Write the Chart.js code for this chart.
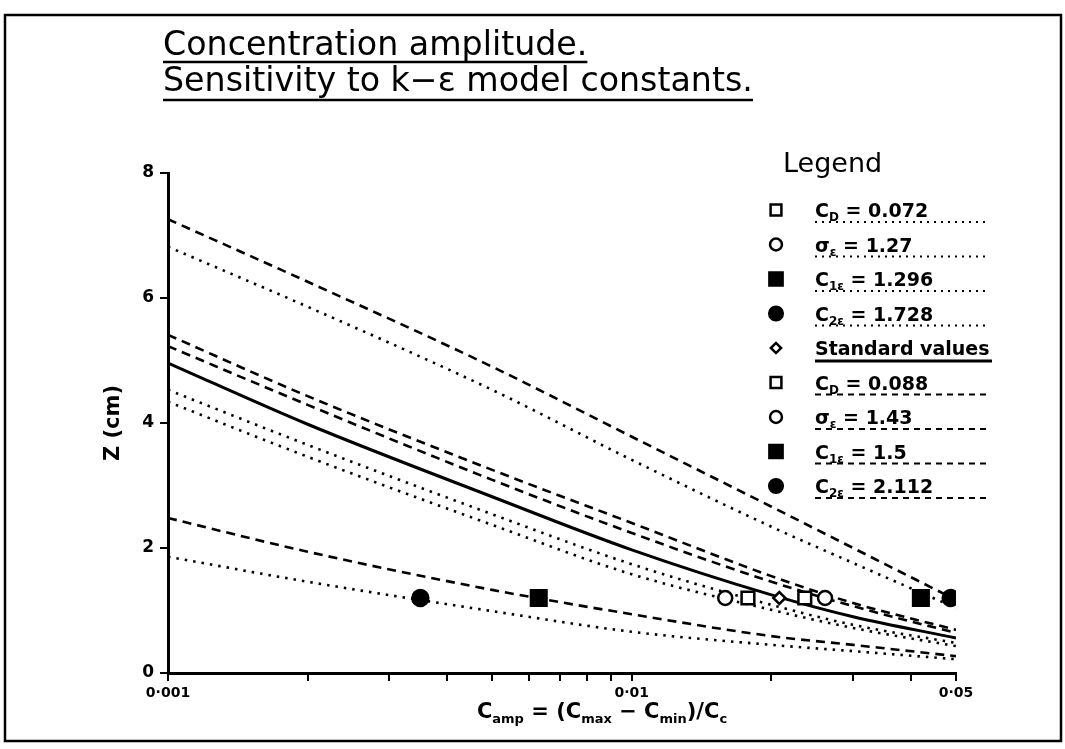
<!DOCTYPE html>
<html>
<head>
<meta charset="utf-8">
<title>Concentration amplitude</title>
<script src="https://cdn.jsdelivr.net/npm/chart.js@4.4.1/dist/chart.umd.min.js"></script>
<style>
  html, body { margin: 0; padding: 0; background: #fff; }
  #wrap { width: 1065px; height: 749px; }
</style>
</head>
<body>
<div id="wrap"><canvas id="ampChart" width="1065" height="749"></canvas></div>
<script>
/* Amplitud de concentración: sensibilidad a las constantes del modelo k-ε */

// Eje X (logarítmico): C_amp
const xValues = [0.001, 0.002, 0.005, 0.01, 0.02, 0.03, 0.05];

// Z (cm) de cada curva en los puntos de xValues
const zStandard = [4.96, 3.98, 2.82, 1.97, 1.25, 0.90, 0.56];
const zCd072    = [4.53, 3.65, 2.54, 1.74, 1.09, 0.77, 0.48];
const zSig127   = [4.34, 3.46, 2.37, 1.58, 1.01, 0.72, 0.43];
const zC1e1296  = [6.82, 5.86, 4.53, 3.41, 2.34, 1.76, 1.04];
const zC2e1728  = [1.86, 1.46, 0.99, 0.66, 0.45, 0.35, 0.22];
const zCd088    = [5.23, 4.29, 3.09, 2.24, 1.46, 1.07, 0.64];
const zSig143   = [5.41, 4.43, 3.25, 2.40, 1.55, 1.12, 0.69];
const zC1e15    = [2.48, 1.94, 1.33, 0.94, 0.59, 0.45, 0.27];
const zC2e2112  = [7.26, 6.26, 4.90, 3.78, 2.66, 2.00, 1.17];

// Marcadores (mismo orden que la leyenda), todos a Z = 1.2 cm
const markerX = [0.0178, 0.0159, 0.042, 0.0035, 0.0208, 0.0236, 0.0261, 0.0063, 0.0487];
const markerZ = 1.2;

// Ticks
const xTickValues = [0.001, 0.002, 0.003, 0.004, 0.005, 0.006, 0.007, 0.008, 0.009,
                     0.01, 0.02, 0.03, 0.04, 0.05];
const xTickLabels = { '0.001': '0\u00b7001', '0.01': '0\u00b701', '0.05': '0\u00b705' };
const yTicks = [0, 2, 4, 6, 8];

const FONT = '"DejaVu Sans", sans-serif';

// Estilos de línea
const DASH = { dot: [2.5, 6], dash: [9, 6], solid: [] };

// Estilos de marcador
const MARK = {
  openSquare:   { pointStyle: 'rect',    radius: 9,  fill: '#fff' },
  openCircle:   { pointStyle: 'circle',  radius: 7,  fill: '#fff' },
  filledSquare: { pointStyle: 'rect',    radius: 11, fill: '#000' },
  filledCircle: { pointStyle: 'circle',  radius: 8,  fill: '#000' },
  diamond:      { pointStyle: 'rectRot', radius: 6,  fill: '#fff' },
};

// Orden de la leyenda
const series = [
  { label: 'C_{D} = 0.072',   z: zCd072,    line: 'dot',   mark: 'openSquare' },
  { label: '\u03c3_{\u03b5} = 1.27',     z: zSig127,   line: 'dot',   mark: 'openCircle' },
  { label: 'C_{1\u03b5} = 1.296',  z: zC1e1296,  line: 'dot',   mark: 'filledSquare' },
  { label: 'C_{2\u03b5} = 1.728',  z: zC2e1728,  line: 'dot',   mark: 'filledCircle' },
  { label: 'Standard values', z: zStandard, line: 'solid', mark: 'diamond' },
  { label: 'C_{D} = 0.088',   z: zCd088,    line: 'dash',  mark: 'openSquare' },
  { label: '\u03c3_{\u03b5} = 1.43',     z: zSig143,   line: 'dash',  mark: 'openCircle' },
  { label: 'C_{1\u03b5} = 1.5',    z: zC1e15,    line: 'dash',  mark: 'filledSquare' },
  { label: 'C_{2\u03b5} = 2.112',  z: zC2e2112,  line: 'dash',  mark: 'filledCircle' },
];

/* ---- texto con subíndices: "C_{1ε}" ---- */
function richParts(str) {
  const parts = [];
  const re = /_\{([^}]*)\}/g;
  let last = 0, m;
  while ((m = re.exec(str))) {
    if (m.index > last) parts.push({ t: str.slice(last, m.index), sub: false });
    parts.push({ t: m[1], sub: true });
    last = re.lastIndex;
  }
  if (last < str.length) parts.push({ t: str.slice(last), sub: false });
  return parts;
}

function drawRich(ctx, str, x, y, size, weight, align) {
  const parts = richParts(str);
  const subSize = Math.round(size * 0.62);
  const fontOf = p => `${weight} ${p.sub ? subSize : size}px ${FONT}`;
  let total = 0;
  parts.forEach(p => { ctx.font = fontOf(p); p.w = ctx.measureText(p.t).width; total += p.w; });
  let cx = align === 'center' ? x - total / 2 : x;
  ctx.textAlign = 'left';
  ctx.textBaseline = 'alphabetic';
  parts.forEach(p => {
    ctx.font = fontOf(p);
    ctx.fillText(p.t, cx, p.sub ? y + size * 0.22 : y);
    cx += p.w;
  });
  return total;
}

function hline(ctx, x1, x2, y, width, dash) {
  ctx.save();
  ctx.lineWidth = width;
  ctx.setLineDash(dash);
  ctx.beginPath();
  ctx.moveTo(x1, y);
  ctx.lineTo(x2, y);
  ctx.stroke();
  ctx.restore();
}

/* ---- marco, título, leyenda y título del eje X ---- */
const decorations = {
  id: 'decorations',
  afterDraw(chart) {
    const ctx = chart.ctx;
    ctx.save();
    ctx.fillStyle = '#000';
    ctx.strokeStyle = '#000';

    // Marco exterior
    ctx.lineWidth = 2.5;
    ctx.strokeRect(5, 15, 1056, 726);

    // Título (dos líneas subrayadas, mismo cuerpo de letra)
    const t1 = 'Concentration amplitude.';
    const t2 = 'Sensitivity to k\u2212\u03b5 model constants.';
    ctx.font = `30px ${FONT}`;
    const size = 30 * 590 / ctx.measureText(t2).width;
    ctx.font = `${size}px ${FONT}`;
    ctx.textAlign = 'left';
    ctx.textBaseline = 'alphabetic';
    const w1 = ctx.measureText(t1).width;
    ctx.fillText(t1, 163, 55);
    ctx.fillText(t2, 163, 91);
    hline(ctx, 163, 163 + w1, 62, 2.5, []);
    hline(ctx, 163, 753, 100, 2.5, []);

    // Leyenda
    ctx.font = `27px ${FONT}`;
    ctx.fillText('Legend', 783, 172);
    const rowY0 = 210, rowStep = 34.5;
    series.forEach((s, i) => {
      const y = rowY0 + i * rowStep;
      const mk = MARK[s.mark];
      ctx.fillStyle = mk.fill;
      ctx.lineWidth = 2.5;
      Chart.helpers.drawPoint(ctx, { pointStyle: mk.pointStyle, radius: mk.radius * 0.85, rotation: 0, borderWidth: 2.5 }, 776, y);
      ctx.fillStyle = '#000';
      drawRich(ctx, s.label, 815, y + 7, 19, 'bold', 'left');
      if (s.line === 'solid') hline(ctx, 815, 992, y + 13, 3, []);
      else hline(ctx, 815, 990, y + 12, 2, s.line === 'dot' ? [2, 5] : [6, 5]);
    });

    // Título del eje X
    drawRich(ctx, 'C_{amp} = (C_{max} \u2212 C_{min})/C_{c}', 602, 718, 21, 'bold', 'center');
    ctx.restore();
  }
};

/* ---- datasets ---- */
const lineSets = series.map(s => ({
  label: s.label,
  data: xValues.map((x, i) => ({ x, y: s.z[i] })),
  borderColor: '#000',
  borderWidth: s.line === 'solid' ? 3 : 2.6,
  borderDash: DASH[s.line],
  borderCapStyle: 'butt',
  pointRadius: 0,
  cubicInterpolationMode: 'monotone',
  fill: false,
  order: 2,
}));

const markerSets = series.map((s, i) => {
  const mk = MARK[s.mark];
  return {
    label: s.label + ' marker',
    data: [{ x: markerX[i], y: markerZ }],
    showLine: false,
    pointStyle: mk.pointStyle,
    pointRadius: mk.radius,
    pointBackgroundColor: mk.fill,
    pointBorderColor: '#000',
    pointBorderWidth: 2.5,
    order: 1,
  };
});

new Chart(document.getElementById('ampChart'), {
  type: 'line',
  data: { datasets: [...lineSets, ...markerSets] },
  options: {
    responsive: false,
    animation: false,
    events: [],
    layout: { padding: { top: 173, right: 109, bottom: 0, left: 0 } },
    plugins: { legend: { display: false }, tooltip: { enabled: false } },
    scales: {
      x: {
        type: 'logarithmic',
        min: 0.001,
        max: 0.05,
        afterFit: s => { s.height = 76; },
        afterBuildTicks: s => { s.ticks = xTickValues.map(v => ({ value: v })); },
        ticks: {
          autoSkip: false,
          maxRotation: 0,
          padding: 4,
          color: '#000',
          font: { family: FONT, weight: 'bold', size: 14 },
          callback: v => xTickLabels[String(v)] || '',
        },
        grid: { drawOnChartArea: false, drawTicks: true, tickLength: 8, color: '#000', lineWidth: 2 },
        border: { color: '#000', width: 3 },
      },
      y: {
        min: 0,
        max: 8,
        afterFit: s => { s.width = 168; },
        afterBuildTicks: s => { s.ticks = yTicks.map(v => ({ value: v })); },
        ticks: {
          padding: 6,
          color: '#000',
          font: { family: FONT, weight: 'bold', size: 17 },
        },
        title: {
          display: true,
          text: 'Z (cm)',
          color: '#000',
          font: { family: FONT, weight: 'bold', size: 21 },
          padding: { top: 101, bottom: 0 },
        },
        grid: { drawOnChartArea: false, drawTicks: true, tickLength: 8, color: '#000', lineWidth: 2 },
        border: { color: '#000', width: 3 },
      },
    },
  },
  plugins: [decorations],
});
</script>
</body>
</html>
